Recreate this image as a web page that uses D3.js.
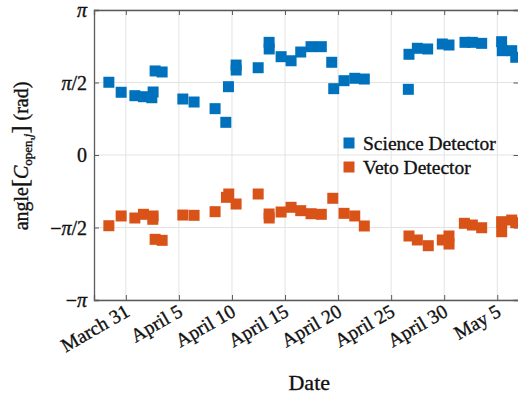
<!DOCTYPE html>
<html>
<head>
<meta charset="utf-8">
<script src="https://cdn.jsdelivr.net/npm/d3@7"></script>
<style>
  body { margin: 0; background: #fff; }
  svg { display: block; }
  text { font-family: "Liberation Serif", "Times New Roman", serif; fill: #111; stroke: #111; stroke-width: 0.35px; }
</style>
</head>
<body>
<svg id="chart" width="518" height="398"></svg>
<script>
// Phase of the open-loop coefficient per measurement, in radians
const scienceTimes = [
  "2021-03-29T09:36","2021-03-30T13:26","2021-03-31T20:24","2021-04-01T15:50",
  "2021-04-02T10:48","2021-04-02T13:41","2021-04-02T18:14","2021-04-03T10:05",
  "2021-04-05T08:53","2021-04-06T10:19","2021-04-08T09:50","2021-04-09T10:05",
  "2021-04-09T16:05","2021-04-10T09:22","2021-04-10T09:30","2021-04-12T11:17",
  "2021-04-13T12:00","2021-04-13T12:10","2021-04-14T15:07","2021-04-15T13:41",
  "2021-04-16T11:31","2021-04-17T10:48","2021-04-18T10:05","2021-04-19T09:36",
  "2021-04-19T14:10","2021-04-20T13:26","2021-04-21T13:41","2021-04-22T11:17",
  "2021-04-26T14:53","2021-04-26T16:19","2021-04-27T11:17","2021-04-28T10:34",
  "2021-04-29T19:41","2021-04-30T10:48","2021-05-01T23:02","2021-05-02T15:36",
  "2021-05-03T12:43","2021-05-05T09:50","2021-05-05T11:17","2021-05-06T08:38",
  "2021-05-06T17:46"
];
const scienceAngles = [
  1.576, 1.359, 1.285, 1.263,
  1.241, 1.365, 1.821, 1.799,
  1.213, 1.148, 1.004, 0.708,
  1.480, 1.949, 1.841, 1.891,
  2.441, 2.297, 2.130, 2.042,
  2.231, 2.347, 2.347, 2.009,
  1.437, 1.610, 1.662, 1.646,
  1.423, 2.182, 2.312, 2.297,
  2.405, 2.383, 2.441, 2.441,
  2.419, 2.455, 2.260, 2.260,
  2.117
];

const vetoTimes = [
  "2021-03-29T09:36","2021-03-30T13:26","2021-03-31T20:24","2021-04-01T15:50",
  "2021-04-02T13:41","2021-04-02T13:00","2021-04-02T18:14","2021-04-03T10:05",
  "2021-04-05T08:53","2021-04-06T10:19","2021-04-08T09:50","2021-04-09T11:31",
  "2021-04-09T16:48","2021-04-10T09:22","2021-04-12T11:17","2021-04-13T12:00",
  "2021-04-13T12:10","2021-04-14T15:07","2021-04-15T13:41","2021-04-16T11:31",
  "2021-04-17T10:48","2021-04-18T10:05","2021-04-19T12:00","2021-04-20T13:26",
  "2021-04-21T13:41","2021-04-22T11:17","2021-04-26T16:19","2021-04-27T11:17",
  "2021-04-28T12:00","2021-04-29T19:41","2021-04-30T10:48","2021-04-30T10:55",
  "2021-05-01T21:36","2021-05-02T15:36","2021-05-03T12:43","2021-05-05T09:50",
  "2021-05-05T10:00","2021-05-06T08:38","2021-05-06T17:46"
];
const vetoAngles = [
  -1.532, -1.321, -1.365, -1.285,
  -1.321, -1.393, -1.827, -1.849,
  -1.301, -1.307, -1.228, -0.917,
  -0.845, -1.062, -0.845, -1.278,
  -1.365, -1.235, -1.133, -1.206,
  -1.272, -1.285, -0.938, -1.264,
  -1.321, -1.538, -1.755, -1.841,
  -1.965, -1.841, -1.755, -1.929,
  -1.480, -1.517, -1.576, -1.445,
  -1.662, -1.409, -1.467
];

const dateTicks = ["2021-03-31","2021-04-05","2021-04-10","2021-04-15",
                   "2021-04-20","2021-04-25","2021-04-30","2021-05-05"];
const dateTickLabels = ["March 31","April 5","April 10","April 15",
                        "April 20","April 25","April 30","May 5"];
const dateRange = ["2021-03-28","2021-05-07"];
const angleTicks = [-Math.PI, -Math.PI / 2, 0, Math.PI / 2, Math.PI];
const angleTickLabels = ["−π", "−π/2", "0", "π/2", "π"];

const seriesNames = ["Science Detector", "Veto Detector"];
const seriesColors = ["#0072BD", "#D95319"];

const parseTime = d3.timeParse("%Y-%m-%dT%H:%M");
const parseDay = d3.timeParse("%Y-%m-%d");

const svg = d3.select("#chart");
const plot = { left: 94, top: 10, right: 518.5, bottom: 300 };

const x = d3.scaleTime()
  .domain(dateRange.map(parseDay))
  .range([plot.left, plot.right]);
const y = d3.scaleLinear()
  .domain([-Math.PI, Math.PI])
  .range([plot.bottom, plot.top]);

const axisColor = "#5a5a5a";
const gridColor = "#e3e3e3";

// grid
const grid = svg.append("g");
grid.selectAll("line.vx").data(dateTicks.map(parseDay)).join("line")
  .attr("x1", d => x(d)).attr("x2", d => x(d))
  .attr("y1", plot.top).attr("y2", plot.bottom)
  .attr("stroke", gridColor).attr("stroke-width", 1);
grid.selectAll("line.hy").data(angleTicks).join("line")
  .attr("x1", plot.left).attr("x2", plot.right)
  .attr("y1", d => y(d)).attr("y2", d => y(d))
  .attr("stroke", gridColor).attr("stroke-width", 1);

// axes (ticks point inward, box on)
const tickLen = 5;
const bottomAxis = d3.axisBottom(x).tickValues(dateTicks.map(parseDay))
  .tickSize(-tickLen).tickFormat("");
const topAxis = d3.axisTop(x).tickValues(dateTicks.map(parseDay))
  .tickSize(-tickLen).tickFormat("");
const leftAxis = d3.axisLeft(y).tickValues(angleTicks)
  .tickSize(-tickLen).tickFormat("");
const rightAxis = d3.axisRight(y).tickValues(angleTicks)
  .tickSize(-tickLen).tickFormat("");

function styleAxis(g) {
  g.select(".domain").attr("stroke", axisColor).attr("stroke-width", 1.3);
  g.selectAll(".tick line").attr("stroke", axisColor).attr("stroke-width", 1);
}
svg.append("g").attr("transform", `translate(0,${plot.bottom})`).call(bottomAxis).call(styleAxis);
svg.append("g").attr("transform", `translate(0,${plot.top})`).call(topAxis).call(styleAxis);
svg.append("g").attr("transform", `translate(${plot.left},0)`).call(leftAxis).call(styleAxis);
svg.append("g").attr("transform", `translate(${plot.right},0)`).call(rightAxis).call(styleAxis);

// y tick labels
const yLab = svg.append("g");
angleTickLabels.forEach((lab, i) => {
  const t = yLab.append("text")
    .attr("x", plot.left - 7)
    .attr("y", y(angleTicks[i]))
    .attr("dy", "0.35em")
    .attr("text-anchor", "end")
    .style("font-size", "20px");
  // π set in italic, the rest upright
  lab.split(/(π)/).filter(s => s.length).forEach(part => {
    t.append("tspan").text(part)
      .style("font-style", part === "π" ? "italic" : "normal");
  });
});

// x tick labels, rotated
const xLab = svg.append("g");
dateTicks.forEach((d, i) => {
  const px = x(parseDay(d));
  xLab.append("text")
    .attr("transform", `translate(${px + 5},${plot.bottom + 15}) rotate(-30)`)
    .attr("text-anchor", "end")
    .style("font-size", "19.5px")
    .text(dateTickLabels[i]);
});

// axis titles
svg.append("text")
  .attr("x", (plot.left + plot.right) / 2 + 3)
  .attr("y", 390)
  .attr("text-anchor", "middle")
  .style("font-size", "22px")
  .text("Date");

const yt = svg.append("text")
  .attr("transform", `translate(28,${(plot.top + plot.bottom) / 2 + 1}) rotate(-90)`)
  .attr("text-anchor", "middle")
  .style("font-size", "20px");
yt.append("tspan").text("angle");
yt.append("tspan").text("[").style("font-size", "24px");
yt.append("tspan").text("C").style("font-style", "italic");
yt.append("tspan").text("open,").attr("dy", "4").style("font-size", "13px");
yt.append("tspan").text("j").style("font-size", "13px").style("font-style", "italic");
yt.append("tspan").text("]").attr("dy", "-4").style("font-size", "24px");
yt.append("tspan").text(" (rad)");

// markers
const markerSize = 11;
const series = [
  { times: scienceTimes, angles: scienceAngles, color: seriesColors[0] },
  { times: vetoTimes, angles: vetoAngles, color: seriesColors[1] }
];
const marks = svg.append("g");
series.forEach(s => {
  const pts = s.times.map((t, i) => ({ t: parseTime(t), v: s.angles[i] }));
  marks.append("g").selectAll("rect").data(pts).join("rect")
    .attr("x", d => x(d.t) - markerSize / 2)
    .attr("y", d => y(d.v) - markerSize / 2)
    .attr("width", markerSize).attr("height", markerSize)
    .attr("fill", s.color);
});

// legend
const legend = svg.append("g");
seriesNames.forEach((name, i) => {
  const cy = 143 + i * 24;
  legend.append("rect")
    .attr("x", 349 - markerSize / 2).attr("y", cy - markerSize / 2)
    .attr("width", markerSize).attr("height", markerSize)
    .attr("fill", seriesColors[i]);
  legend.append("text")
    .attr("x", 363).attr("y", cy).attr("dy", "0.35em")
    .style("font-size", "19.5px")
    .text(name);
});
</script>
</body>
</html>
